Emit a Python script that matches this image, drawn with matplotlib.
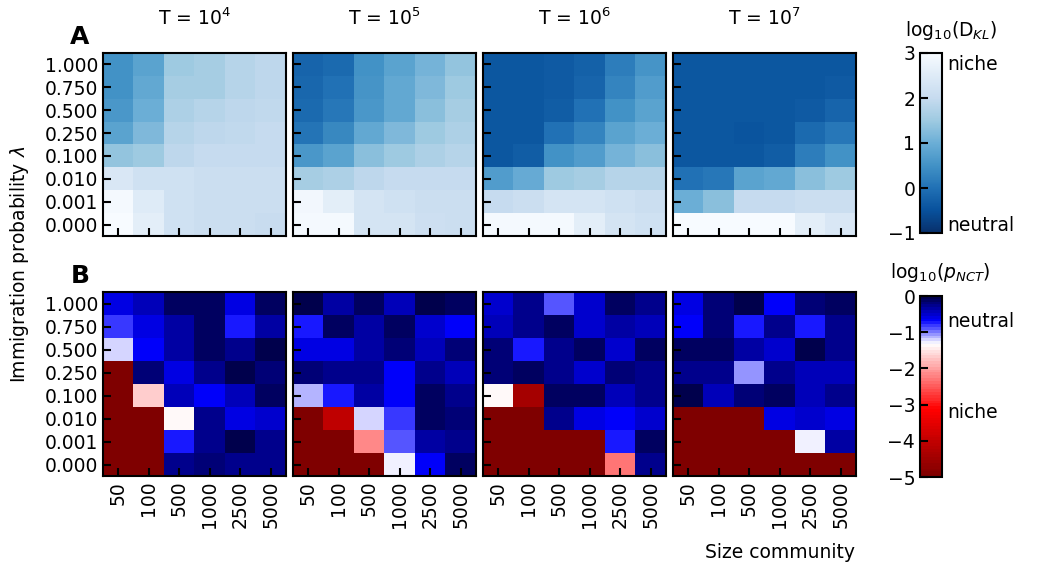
import numpy as np
import matplotlib
matplotlib.use("Agg")
import matplotlib.pyplot as plt
from matplotlib.colors import ListedColormap

# Data
sizes = ["50", "100", "500", "1000", "2500", "5000"]
lambdas = ["1.000", "0.750", "0.500", "0.250", "0.100", "0.010", "0.001", "0.000"]
times = ["4", "5", "6", "7"]

# log10(D_KL), rows = lambda (top to bottom), cols = community size
dkl_T4 = [[0.5, 0.8, 1.5, 1.6, 1.8, 1.9],
          [0.5, 0.9, 1.6, 1.6, 1.8, 1.9],
          [0.6, 1.0, 1.7, 1.8, 1.9, 1.95],
          [0.8, 1.2, 1.8, 1.9, 1.95, 2.0],
          [1.4, 1.5, 1.9, 2.0, 2.0, 2.0],
          [2.4, 2.2, 2.2, 2.1, 2.1, 2.1],
          [2.95, 2.5, 2.2, 2.1, 2.1, 2.1],
          [3.0, 2.6, 2.2, 2.1, 2.1, 2.05]]
dkl_T5 = [[-0.2, -0.1, 0.5, 0.8, 1.1, 1.4],
          [-0.15, 0.0, 0.55, 0.9, 1.2, 1.5],
          [-0.1, 0.1, 0.6, 0.9, 1.3, 1.6],
          [0.05, 0.35, 0.9, 1.2, 1.5, 1.7],
          [0.6, 0.8, 1.3, 1.5, 1.7, 1.8],
          [1.6, 1.7, 1.9, 2.0, 2.0, 2.0],
          [2.9, 2.6, 2.3, 2.2, 2.1, 2.1],
          [2.95, 2.95, 2.3, 2.3, 2.15, 2.1]]
dkl_T6 = [[-0.4, -0.4, -0.35, -0.25, 0.2, 0.55],
          [-0.4, -0.4, -0.35, -0.2, 0.3, 0.7],
          [-0.4, -0.4, -0.3, 0.0, 0.5, 0.8],
          [-0.4, -0.4, 0.0, 0.3, 0.8, 1.0],
          [-0.4, -0.3, 0.5, 0.7, 1.1, 1.3],
          [0.7, 0.95, 1.5, 1.6, 1.8, 1.8],
          [2.0, 2.1, 2.3, 2.3, 2.2, 2.1],
          [2.95, 2.95, 2.95, 2.6, 2.3, 2.2]]
dkl_T7 = [[-0.4, -0.4, -0.4, -0.4, -0.4, -0.4],
          [-0.4, -0.4, -0.4, -0.4, -0.4, -0.35],
          [-0.4, -0.4, -0.4, -0.4, -0.35, -0.2],
          [-0.4, -0.4, -0.45, -0.4, -0.1, 0.1],
          [-0.4, -0.4, -0.4, -0.3, 0.2, 0.5],
          [0.0, 0.1, 0.8, 0.9, 1.3, 1.5],
          [1.0, 1.3, 2.0, 2.0, 2.1, 2.1],
          [3.0, 3.0, 3.0, 3.0, 2.6, 2.4]]

# log10(p_NCT)
p_T4 = [[-0.6, -0.4, -0.15, -0.1, -0.55, -0.08],
        [-0.85, -0.55, -0.35, -0.08, -0.72, -0.35],
        [-1.2, -0.65, -0.35, -0.1, -0.25, 0.0],
        [-5, -0.18, -0.6, -0.25, -0.02, -0.18],
        [-5, -1.67, -0.45, -0.65, -0.4, -0.15],
        [-5, -5, -1.4, -0.3, -0.55, -0.5],
        [-5, -5, -0.75, -0.25, -0.02, -0.25],
        [-5, -5, -0.3, -0.2, -0.3, -0.25]]
p_T5 = [[-0.05, -0.35, -0.15, -0.4, -0.02, -0.08],
        [-0.72, -0.1, -0.35, -0.15, -0.5, -0.65],
        [-0.55, -0.55, -0.35, -0.18, -0.4, -0.18],
        [-0.2, -0.28, -0.3, -0.63, -0.3, -0.4],
        [-1.15, -0.72, -0.35, -0.63, -0.08, -0.28],
        [-5, -4.0, -1.25, -0.85, -0.1, -0.2],
        [-5, -5, -2.13, -0.87, -0.35, -0.25],
        [-5, -5, -5, -1.3, -0.7, -0.15]]
p_T6 = [[-0.5, -0.25, -0.93, -0.48, -0.15, -0.25],
        [-0.45, -0.25, -0.08, -0.48, -0.33, -0.45],
        [-0.2, -0.72, -0.3, -0.08, -0.5, -0.1],
        [-0.2, -0.08, -0.28, -0.5, -0.18, -0.28],
        [-1.4, -4.45, -0.08, -0.08, -0.45, -0.28],
        [-5, -5, -0.25, -0.55, -0.65, -0.48],
        [-5, -5, -5, -5, -0.72, -0.1],
        [-5, -5, -5, -5, -2.32, -0.3]]
p_T7 = [[-0.6, -0.18, 0.0, -0.63, -0.2, -0.1],
        [-0.63, -0.18, -0.72, -0.25, -0.78, -0.28],
        [-0.1, -0.1, -0.35, -0.48, 0.0, -0.28],
        [-0.3, -0.3, -1.05, -0.28, -0.4, -0.45],
        [0.0, -0.4, -0.2, -0.15, -0.45, -0.3],
        [-5, -5, -5, -0.6, -0.5, -0.55],
        [-5, -5, -5, -5, -1.28, -0.35],
        [-5, -5, -5, -5, -5, -5]]

dkl_all = [dkl_T4, dkl_T5, dkl_T6, dkl_T7]
p_all = [p_T4, p_T5, p_T6, p_T7]

# colormap for p: seismic_r, white placed at log10(0.05)
vc = np.log10(0.05)
v = np.linspace(-5, 0, 64)
pos = np.where(v < vc, 0.5 * (v + 5) / (vc + 5), 0.5 + 0.5 * (v - vc) / (0 - vc))
p_cmap = ListedColormap(plt.get_cmap("seismic_r")(pos))

plt.rcParams["font.size"] = 13.5
W, H = 1037, 568
fig = plt.figure(figsize=(W / 100, H / 100), dpi=100)

def box(x0, y0, x1, y1):
    return [x0 / W, 1 - y1 / H, (x1 - x0) / W, (y1 - y0) / H]

lefts = [103, 293, 483, 673]
pw = 183

def style(ax, first_col, last_row):
    ax.set_xticks(range(len(sizes)))
    ax.set_yticks(range(len(lambdas)))
    ax.tick_params(direction="in", length=6, width=1.5, top=False, right=False)
    if first_col:
        ax.set_yticklabels(lambdas)
    else:
        ax.set_yticklabels([])
    if last_row:
        ax.set_xticklabels(sizes, rotation=90)
    else:
        ax.set_xticklabels([])
    for s in ax.spines.values():
        s.set_linewidth(1.5)

for i in range(4):
    ax = fig.add_axes(box(lefts[i], 53, lefts[i] + pw, 236))
    im1 = ax.imshow(np.array(dkl_all[i]), cmap="Blues_r", vmin=-1, vmax=3,
                    aspect="auto", interpolation="nearest")
    style(ax, i == 0, False)
    fig.text((lefts[i] + pw / 2) / W, 1 - 18 / H, "T = $10^{%s}$" % times[i],
             fontsize=13.5, ha="center", va="center")

    ax = fig.add_axes(box(lefts[i], 292, lefts[i] + pw, 476))
    im2 = ax.imshow(np.array(p_all[i]), cmap=p_cmap, vmin=-5, vmax=0,
                    aspect="auto", interpolation="nearest")
    style(ax, i == 0, True)

fig.text(855 / W, 1 - 553 / H, "Size community", ha="right", va="center")

# colorbars
cax1 = fig.add_axes(box(920, 53, 942, 233))
cb1 = fig.colorbar(im1, cax=cax1)
cb1.set_ticks([-1, 0, 1, 2, 3])
cax1.yaxis.set_ticks_position("left")
cax1.tick_params(direction="in", length=6, width=1.5)
cb1.outline.set_linewidth(1.5)
sec1 = cax1.secondary_yaxis("right")
sec1.set_ticks([2.8, -0.78], labels=["niche", "neutral"])
sec1.tick_params(direction="in", length=6, width=1.5)
sec1.spines["right"].set_visible(False)
fig.text(951 / W, 1 - 31 / H, r"log$_{10}$(D$_{KL}$)", ha="center", va="center")

cax2 = fig.add_axes(box(920, 296, 942, 477))
cb2 = fig.colorbar(im2, cax=cax2)
cb2.set_ticks([-5, -4, -3, -2, -1, 0])
cax2.yaxis.set_ticks_position("left")
cax2.tick_params(direction="in", length=6, width=1.5)
cb2.outline.set_linewidth(1.5)
sec2 = cax2.secondary_yaxis("right")
sec2.set_ticks([-0.65, -3.15], labels=["neutral", "niche"])
sec2.tick_params(direction="in", length=6, width=1.5)
sec2.spines["right"].set_visible(False)
fig.text(940 / W, 1 - 272 / H, r"log$_{10}$($p_{NCT}$)", ha="center", va="center")

fig.text(80 / W, 1 - 37 / H, "A", fontsize=18, fontweight="bold", ha="center", va="center")
fig.text(80 / W, 1 - 276 / H, "B", fontsize=18, fontweight="bold", ha="center", va="center")
fig.text(20 / W, 1 - 264 / H, "Immigration probability $\\lambda$", rotation=90,
         ha="center", va="center")

fig.savefig("out.png", dpi=100)
